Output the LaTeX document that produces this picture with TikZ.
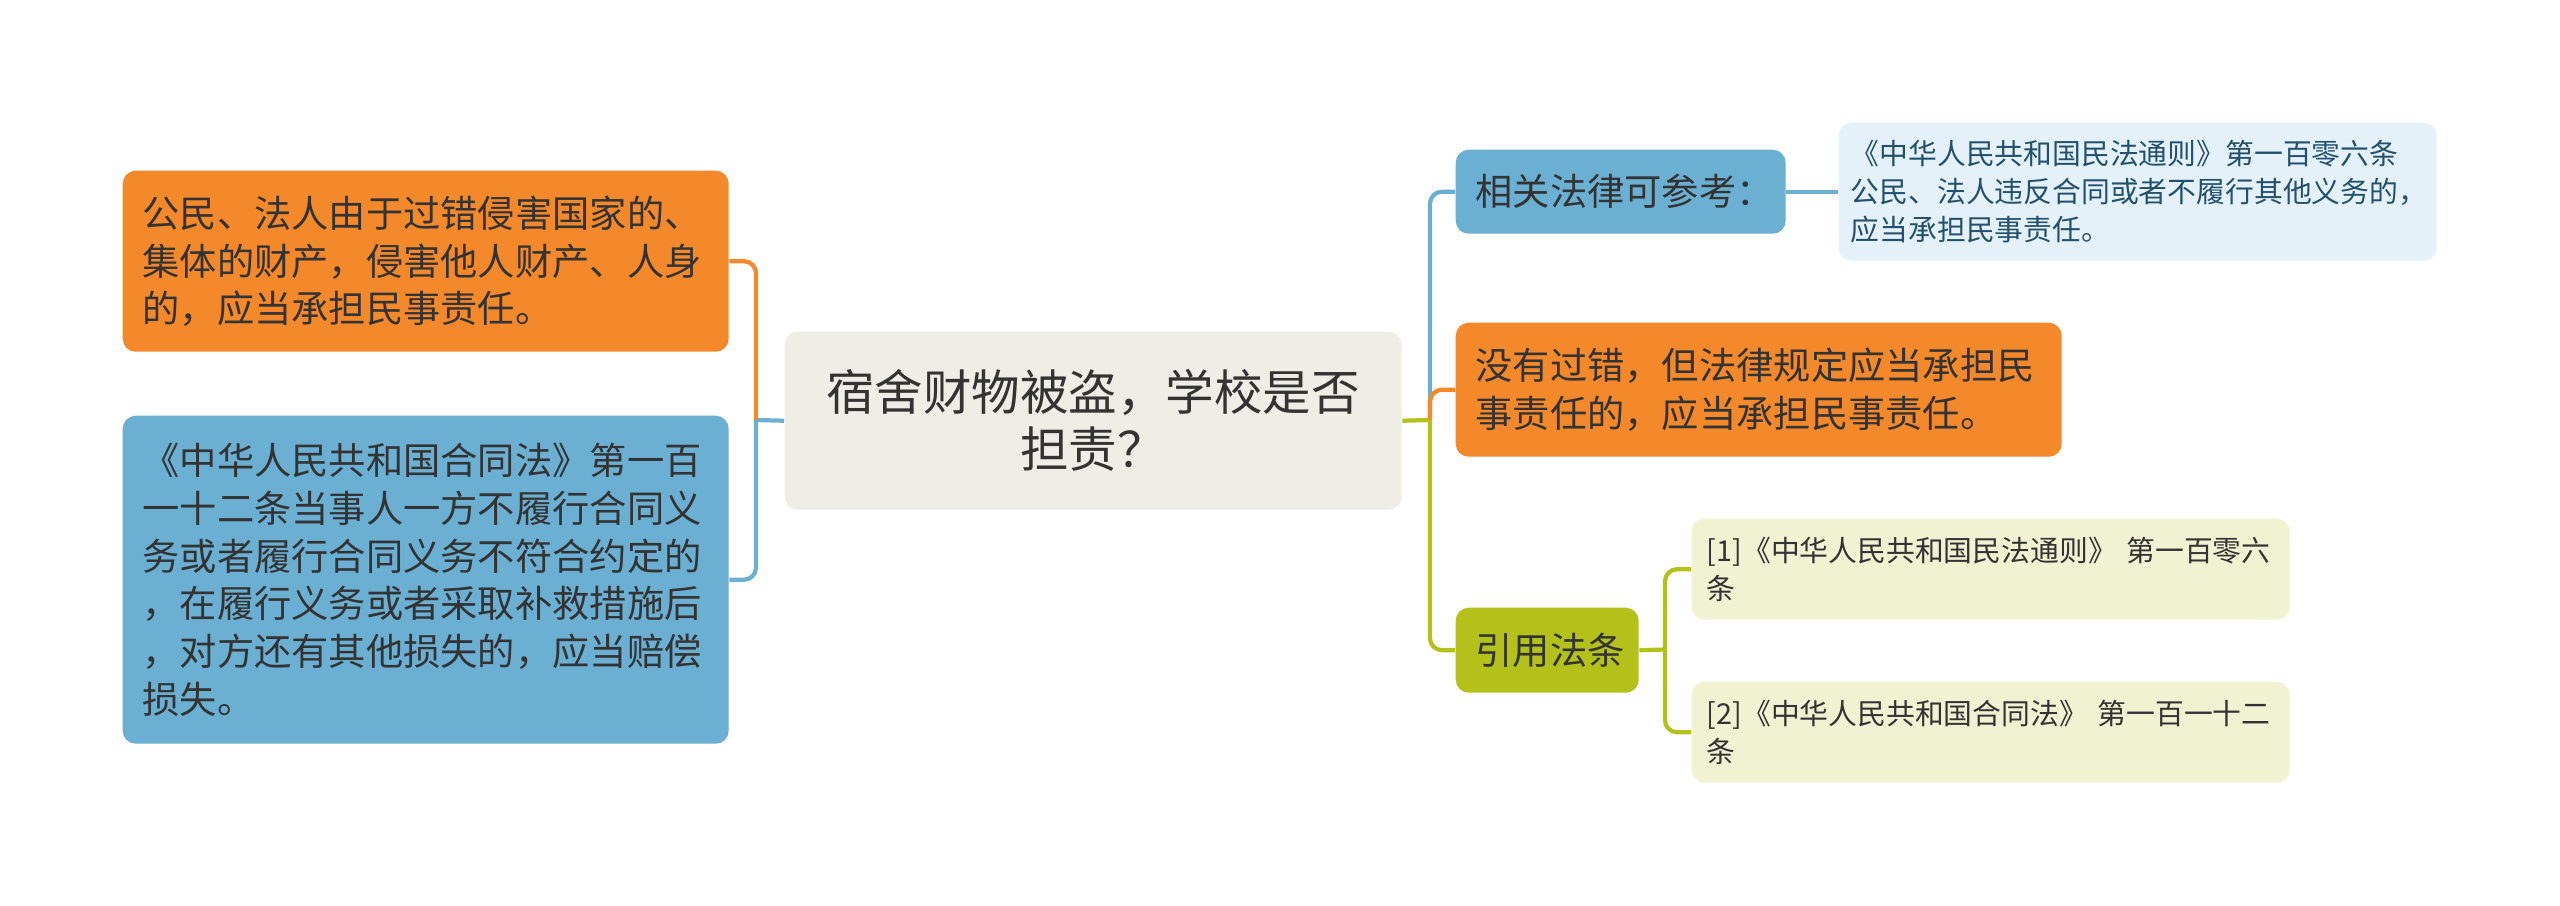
\documentclass[tikz,border=0pt]{standalone}
\usepackage{fontspec}
\newfontfamily\cjk{Noto Sans CJK SC}
\definecolor{txtgray}{HTML}{333333}
\definecolor{morange}{HTML}{F4892B}
\definecolor{mblue}{HTML}{6BAFD3}
\definecolor{mgreen}{HTML}{B4C11B}
\definecolor{paleblue}{HTML}{E4F1F9}
\definecolor{lawtext}{HTML}{23506F}
\definecolor{palegreen}{HTML}{F0F2D2}
\definecolor{rootfill}{HTML}{EEEEE6}
\begin{document}
\begin{tikzpicture}
  [y=-1cm,
   box/.style={rounded corners=1.3mm, anchor=north west, inner xsep=2mm,
     inner ysep=0pt, align=left, text=txtgray},
   midfont/.style={font=\cjk\fontsize{10.6}{13.6}\selectfont},
   smallfont/.style={font=\cjk\fontsize{8.2}{10.9}\selectfont},
   link/.style={line width=1.2pt, rounded corners=1.2mm}]
  \useasboundingbox (0,0) rectangle (25.6,9.05);
  \node[box, midfont, fill=morange, text width=5.66cm, minimum height=1.81cm]
    (lo) at (1.22,1.70)
    {公民、法人由于过错侵害国家的、\\集体的财产，侵害他人财产、人身\\的，应当承担民事责任。};
  \node[box, midfont, fill=mblue, text width=5.66cm, minimum height=3.28cm]
    (lb) at (1.22,4.15)
    {《中华人民共和国合同法》第一百\\一十二条当事人一方不履行合同义\\务或者履行合同义务不符合约定的\\，在履行义务或者采取补救措施后\\，对方还有其他损失的，应当赔偿\\损失。};
  \node[box, fill=rootfill, align=center, text width=5.77cm, minimum height=1.78cm,
    font=\cjk\fontsize{13.8}{16.2}\selectfont]
    (root) at (7.84,3.31) {宿舍财物被盗，学校是否\\担责？};
  \node[box, midfont, fill=mblue, text width=2.90cm, minimum height=0.84cm]
    (rel) at (14.55,1.49) {相关法律可参考：};
  \node[box, smallfont, fill=paleblue, text=lawtext, inner xsep=1.2mm,
    text width=5.74cm, minimum height=1.38cm]
    (law) at (18.38,1.22)
    {《中华人民共和国民法通则》第一百零六条\\公民、法人违反合同或者不履行其他义务的，\\应当承担民事责任。};
  \node[box, midfont, fill=morange, text width=5.66cm, minimum height=1.34cm]
    (ro) at (14.55,3.22)
    {没有过错，但法律规定应当承担民\\事责任的，应当承担民事责任。};
  \node[box, midfont, fill=mgreen, text width=1.43cm, minimum height=0.85cm]
    (cite) at (14.55,6.07) {引用法条};
  \node[box, smallfont, fill=palegreen, inner xsep=1.5mm, text width=5.68cm,
    minimum height=1.01cm]
    (ref1) at (16.91,5.18) {[1]《中华人民共和国民法通则》 第一百零六\\条};
  \node[box, smallfont, fill=palegreen, inner xsep=1.5mm, text width=5.68cm,
    minimum height=1.01cm]
    (ref2) at (16.91,6.81) {[2]《中华人民共和国合同法》 第一百一十二\\条};
  \coordinate (jl) at (7.56,4.20);
  \coordinate (jr) at (14.30,4.20);
  \coordinate (jc) at (16.65,6.495);
  \draw[link, mblue] (root.west) -- (jl);
  \draw[link, morange] (jl) |- (lo.east);
  \draw[link, mblue] (jl) |- (lb.east);
  \draw[link, mgreen] (root.east) -- (jr);
  \draw[link, mblue] (jr) |- (rel.west);
  \draw[link, morange] (jr) |- (ro.west);
  \draw[link, mgreen] (jr) |- (cite.west);
  \draw[link, mblue] (rel.east) -- (law.west);
  \draw[link, mgreen] (cite.east) -- (jc);
  \draw[link, mgreen] (jc) |- (ref1.west);
  \draw[link, mgreen] (jc) |- (ref2.west);
\end{tikzpicture}
\end{document}
